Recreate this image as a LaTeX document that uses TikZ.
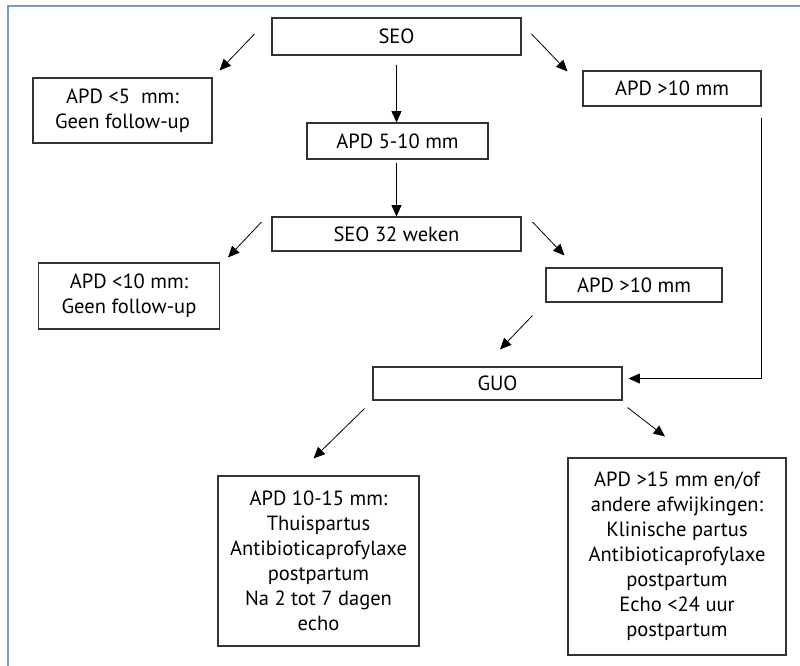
\documentclass[tikz,border=0pt]{standalone}
\usepackage{fontspec}
\setmainfont{PT Sans}
\usetikzlibrary{arrows.meta,calc}
\definecolor{frameblue}{RGB}{110,155,205}
\tikzset{
  box/.style={draw=black!80, line width=0.8pt, align=center, inner sep=0pt,
    font=\fontsize{15.4}{18.75}\selectfont},
  arr/.style={-{Triangle[length=8.5pt,width=7.5pt]}, line width=0.6pt}
}
\begin{document}
\begin{tikzpicture}[x=0.75pt,y=-0.75pt]
\useasboundingbox (0,0) rectangle (800,666);
\draw[frameblue, line width=1.5pt] (8,666) |- (800,6);
% boxes
\node[box, minimum width=249*0.75pt, minimum height=37*0.75pt] (seo) at (396.5,36.5) {SEO};
\node[box, minimum width=179*0.75pt, minimum height=65*0.75pt] (lt5) at (122.5,110.5) {APD <5~ mm:\\Geen follow-up};
\node[box, minimum width=178*0.75pt, minimum height=35*0.75pt] (gt10a) at (672,88.5) {APD >10 mm};
\node[box, minimum width=181*0.75pt, minimum height=36*0.75pt] (mid) at (397.5,141) {APD 5-10 mm};
\node[box, minimum width=249*0.75pt, minimum height=34*0.75pt] (seo32) at (396.5,234) {SEO 32 weken};
\node[box, minimum width=181*0.75pt, minimum height=66*0.75pt] (lt10) at (129,296) {APD <10 mm:\\Geen follow-up};
\node[box, minimum width=176*0.75pt, minimum height=34*0.75pt] (gt10b) at (634,285) {APD >10 mm};
\node[box, minimum width=249*0.75pt, minimum height=33*0.75pt] (guo) at (497.5,383.5) {GUO};
\node[box, minimum width=201*0.75pt, minimum height=170*0.75pt] (mild) at (318.5,561) {APD 10-15 mm:\\Thuispartus\\Antibioticaprofylaxe\\postpartum\\Na 2 tot 7 dagen\\echo};
\node[box, minimum width=218*0.75pt, minimum height=197*0.75pt] (severe) at (677,556.5) {APD >15 mm en/of\\andere afwijkingen:\\Klinische partus\\Antibioticaprofylaxe\\postpartum\\Echo <24 uur\\postpartum};
% arrows
\draw[arr] ($(seo.west)+(-17,-2.5)$) -- ($(lt5.north east)+(7,-7)$);
\draw[arr] ($(seo.south)+(0,9)$) -- (seo.south |- mid.north);
\draw[arr] ($(seo.east)+(10,-2.5)$) -- ($(gt10a.north west)+(-15,1)$);
\draw[arr] ($(mid.south)+(-1,3)$) -- (seo32.north);
\draw[arr] ($(seo32.west)+(-10,-12)$) -- ($(lt10.north east)+(8,-5)$);
\draw[arr] ($(seo32.east)+(11,-12)$) -- ($(gt10b.north west)+(19,-12)$);
\draw[arr] ($(gt10b.south west)+(-13,13)$) -- ($(guo.north)+(2.5,-17)$);
\coordinate (down) at ($(gt10a.south east)+(0,11)$);
\coordinate (into) at ($(guo.east)+(6,-5)$);
\draw[arr] (down) |- (into);
\draw[arr] ($(guo.south west)+(-8,8)$) -- ($(mild.north)+(-5,-17)$);
\draw[arr] ($(guo.south east)+(5,7)$) -- ($(severe.north)+(-12,-21)$);
\end{tikzpicture}
\end{document}
